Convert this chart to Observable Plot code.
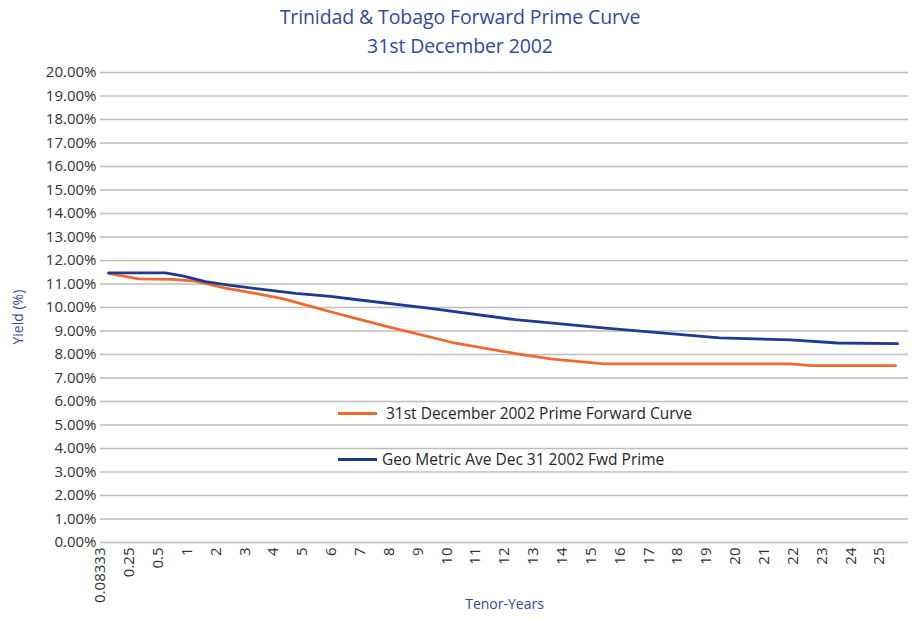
<!DOCTYPE html>
<html>
<head>
<meta charset="utf-8">
<script src="https://cdn.jsdelivr.net/npm/d3@7"></script>
<script src="https://cdn.jsdelivr.net/npm/@observablehq/plot@0.6"></script>
<style>
  html, body { margin: 0; padding: 0; background: #fff; }
  #wrap { position: relative; width: 914px; height: 620px; overflow: hidden; font-family: "Open Sans", "Noto Sans", sans-serif; }
  .title { position: absolute; left: 0; width: 920px; text-align: center; color: #2f4aa0; font-size: 19.5px; letter-spacing: -0.1px; line-height: 24px; }
  #chart { position: absolute; left: 0; top: 60px; }
  .leg { position: absolute; display: flex; align-items: center; font-size: 15.5px; color: #262626; white-space: nowrap; }
  .leg .sw { display: inline-block; width: 39px; height: 3px; margin-right: 9px; }
</style>
</head>
<body>
<div id="wrap">
  <div class="title" style="top:5px">Trinidad &amp; Tobago Forward Prime Curve</div>
  <div class="title" style="top:34px">31st December 2002</div>
  <div id="chart"></div>
  <div class="leg" style="left:338px; top:402px"><span class="sw" style="background:#ef6a2c"></span>31st December 2002 Prime Forward Curve</div>
  <div class="leg" style="left:338px; top:448px"><span class="sw" style="background:#1f3a92; margin-right:5px"></span>Geo Metric Ave Dec 31 2002 Fwd Prime</div>
</div>
<script>
// Category labels of the tenor axis (years)
const tenorLabels = ["0.08333","0.25","0.5","1","2","3","4","5","6","7","8","9","10","11","12","13","14","15","16","17","18","19","20","21","22","23","24","25"];
// Y axis ticks (percent)
const yieldTicks = [0,1,2,3,4,5,6,7,8,9,10,11,12,13,14,15,16,17,18,19,20];

// 31st December 2002 Prime Forward Curve (position along the category axis, yield %)
const primePos   = [0.28, 1.32, 2.49, 3.29, 3.64, 4.33, 5.27, 6.31, 7.35, 7.97, 8.84, 9.91, 12.20, 14.38, 15.66, 17.46, 20.79, 23.91, 24.64, 27.55];
const primeYield = [11.45, 11.22, 11.20, 11.12, 11.03, 10.82, 10.62, 10.38, 10.03, 9.82, 9.54, 9.20, 8.51, 8.04, 7.80, 7.60, 7.60, 7.60, 7.53, 7.53];

// Geo Metric Ave Dec 31 2002 Fwd Prime
const geoPos   = [0.28, 2.25, 2.84, 3.64, 4.44, 5.61, 6.76, 7.97, 8.84, 11.43, 14.38, 17.60, 21.45, 23.91, 25.54, 27.62];
const geoYield = [11.47, 11.47, 11.35, 11.10, 10.95, 10.77, 10.60, 10.47, 10.34, 9.96, 9.48, 9.11, 8.71, 8.62, 8.49, 8.46];

const prime = primePos.map((p, i) => ({pos: p, value: primeYield[i]}));
const geo = geoPos.map((p, i) => ({pos: p, value: geoYield[i]}));
const tickIdx = tenorLabels.map((_, i) => i);

const chart = Plot.plot({
  width: 914,
  height: 560,
  marginTop: 12,
  marginBottom: 78,
  marginLeft: 100,
  marginRight: 6,
  style: {fontFamily: "'Open Sans', 'Noto Sans', sans-serif", fontSize: "15px", color: "#333", background: "#fff"},
  x: {domain: [0, 28]},
  y: {domain: [0, 20]},
  marks: [
    Plot.gridY(yieldTicks, {stroke: "#bdbdbd", strokeOpacity: 1, strokeWidth: 1.6}),
    Plot.axisY(yieldTicks, {tickSize: 0, tickPadding: 4, tickFormat: d => d.toFixed(2) + "%", label: null, fontSize: 15}),
    Plot.axisX(tickIdx, {tickSize: 0, tickPadding: 5, tickRotate: -90, tickFormat: i => tenorLabels[i], label: null, fontSize: 15}),
    Plot.line(prime, {x: "pos", y: "value", stroke: "#ef6a2c", strokeWidth: 2.8}),
    Plot.line(geo, {x: "pos", y: "value", stroke: "#1f3a92", strokeWidth: 2.8}),
    Plot.text(["Yield (%)"], {frameAnchor: "left", dx: -82, dy: 37, rotate: -90, fill: "#2f4aa0", fontSize: 14}),
    Plot.text(["Tenor-Years"], {frameAnchor: "bottom", dy: 66, fill: "#2f4aa0", fontSize: 14})
  ]
});
document.getElementById("chart").appendChild(chart);
</script>
</body>
</html>
